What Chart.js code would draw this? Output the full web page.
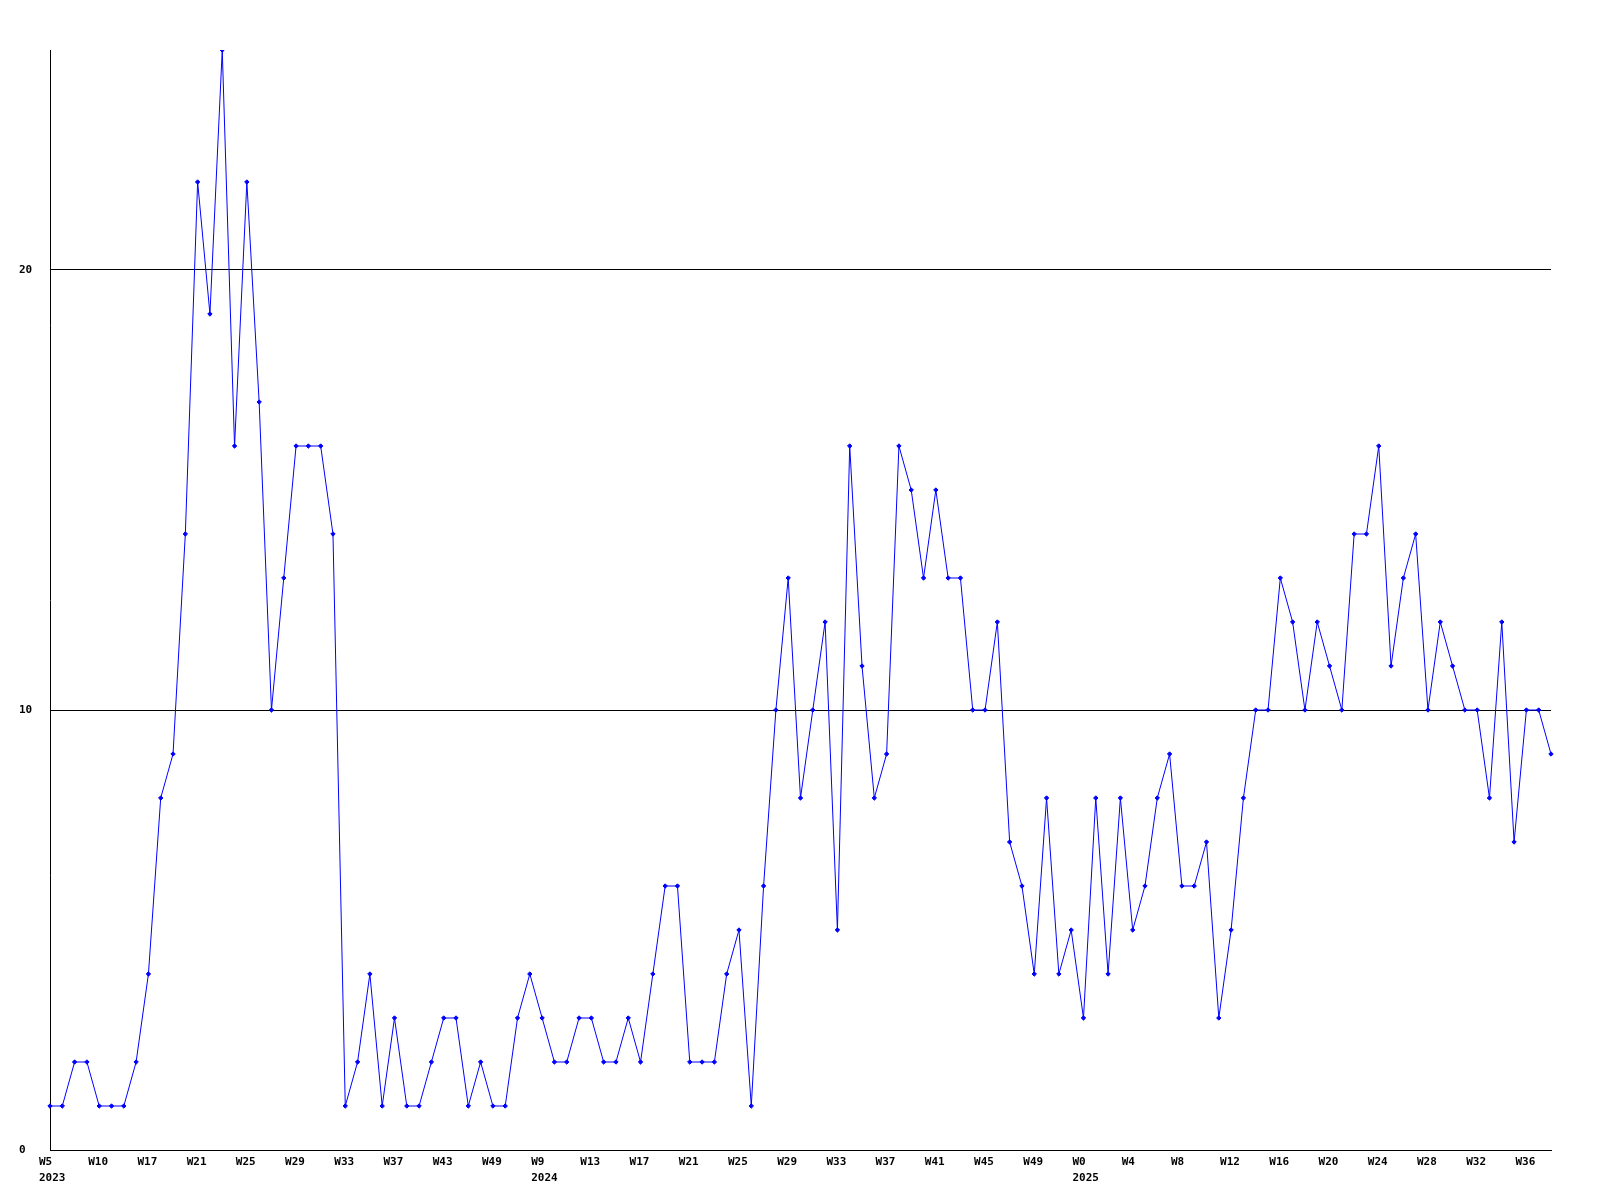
<!DOCTYPE html>
<html>
<head>
<meta charset="utf-8">
<script src="https://cdn.jsdelivr.net/npm/chart.js@4/dist/chart.umd.min.js"></script>
<style>
  html, body { margin: 0; padding: 0; background: #fff; }
  #wrap { width: 1600px; height: 1200px; position: relative; }
</style>
</head>
<body>
<div id="wrap"><canvas id="chart"></canvas></div>
<script>
// ── data: one value per week (123 points), label every 4th point ──
const values = [
  1, 1, 2, 2, 1, 1, 1, 2, 4, 8,
  9, 14, 22, 19, 25, 16, 22, 17, 10, 13,
  16, 16, 16, 14, 1, 2, 4, 1, 3, 1,
  1, 2, 3, 3, 1, 2, 1, 1, 3, 4,
  3, 2, 2, 3, 3, 2, 2, 3, 2, 4,
  6, 6, 2, 2, 2, 4, 5, 1, 6, 10,
  13, 8, 10, 12, 5, 16, 11, 8, 9, 16,
  15, 13, 15, 13, 13, 10, 10, 12, 7, 6,
  4, 8, 4, 5, 3, 8, 4, 8, 5, 6,
  8, 9, 6, 6, 7, 3, 5, 8, 10, 10,
  13, 12, 10, 12, 11, 10, 14, 14, 16, 11,
  13, 14, 10, 12, 11, 10, 10, 8, 12, 7,
  10, 10, 9
];

const weekTicks = [
  'W5', 'W10', 'W17', 'W21', 'W25', 'W29', 'W33', 'W37', 'W43', 'W49',
  'W9', 'W13', 'W17', 'W21', 'W25', 'W29', 'W33', 'W37', 'W41', 'W45', 'W49',
  'W0', 'W4', 'W8', 'W12', 'W16', 'W20', 'W24', 'W28', 'W32', 'W36'
];
const yearStarts = [0, 10, 21];          // index in weekTicks where a year begins
const years      = ['2023', '2024', '2025'];
const tickEvery  = 4;

const yTicks = [0, 10, 20];
const yMax   = 25;

const categories = values.map((_, i) => i);

const FONT = { family: '"DejaVu Sans Mono", "Liberation Mono", monospace', size: 11, weight: 'bold', lineHeight: 1.45 };

function xTickLabel(idx) {
  if (idx % tickEvery !== 0) return null;
  const t = idx / tickEvery;
  const w = weekTicks[t];
  if (w === undefined) return null;
  const y = yearStarts.indexOf(t);
  return y >= 0 ? [w, years[y]] : w;
}

new Chart(document.getElementById('chart'), {
  type: 'line',
  data: {
    labels: categories,
    datasets: [{
      data: values,
      borderColor: '#0000ff',
      borderWidth: 1,
      backgroundColor: '#0000ff',
      pointStyle: 'rectRot',
      pointRadius: 2.2,
      pointBorderWidth: 1,
      pointBackgroundColor: '#0000ff',
      pointBorderColor: '#0000ff',
      tension: 0,
      fill: false
    }]
  },
  options: {
    responsive: true,
    maintainAspectRatio: false,
    animation: false,
    layout: { padding: { top: 50, left: 19, right: 49, bottom: 0 } },
    plugins: {
      legend: { display: false },
      tooltip: { enabled: false }
    },
    scales: {
      x: {
        offset: false,
        grid: { display: false, drawTicks: false },
        border: { display: true, color: '#000', width: 1 },
        ticks: {
          autoSkip: false,
          maxRotation: 0,
          minRotation: 0,
          align: 'start',
          labelOffset: -11,
          padding: 4,
          color: '#000',
          font: FONT,
          callback: (val, idx) => xTickLabel(idx)
        },
        afterFit: s => { s.height = 50; }
      },
      y: {
        min: 0,
        max: yMax,
        afterBuildTicks: s => { s.ticks = yTicks.map(v => ({ value: v })); },
        grid: { color: '#000', lineWidth: 1, drawTicks: false },
        border: { display: true, color: '#000', width: 1 },
        ticks: {
          crossAlign: 'far',
          padding: 0,
          color: '#000',
          font: FONT
        },
        afterFit: s => { s.width = 31; }
      }
    }
  }
});
</script>
</body>
</html>
